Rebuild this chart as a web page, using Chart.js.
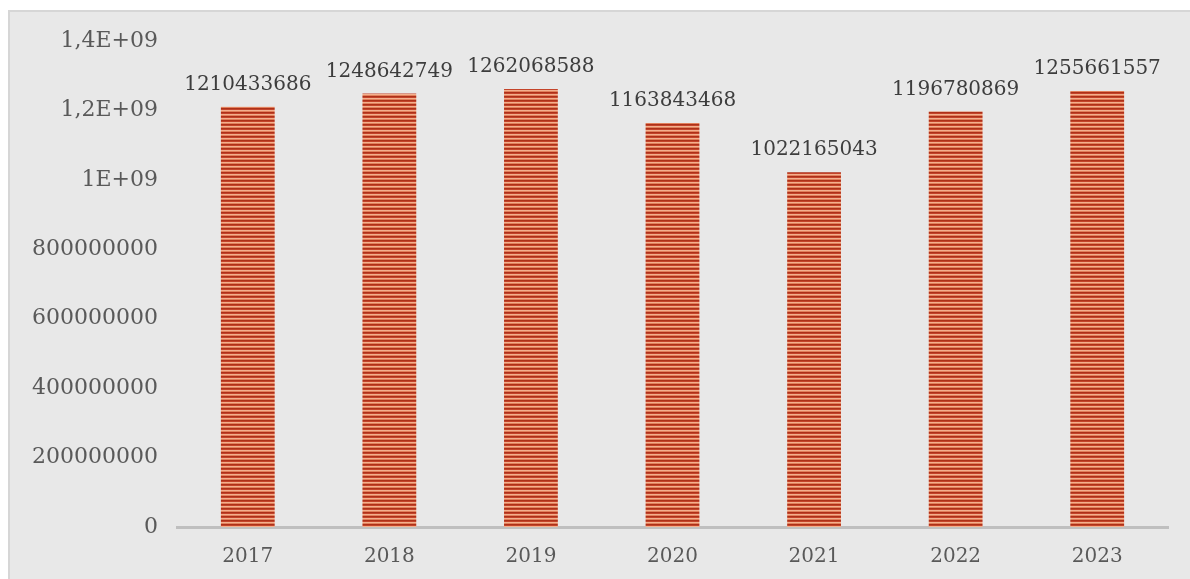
<!DOCTYPE html>
<html>
<head>
<meta charset="utf-8">
<script src="https://cdn.jsdelivr.net/npm/chart.js@4/dist/chart.umd.min.js"></script>
<style>
  html, body { margin: 0; padding: 0; background: #fff; }
  #wrap { position: relative; width: 1190px; height: 579px; overflow: hidden; }
  #bg { position: absolute; left: 8px; top: 10px; right: 0; bottom: 0;
        background: #e8e8e8; border-left: 2px solid #d6d6d6; border-top: 2px solid #d6d6d6; }
  #c { position: absolute; left: 0; top: 0; }
</style>
</head>
<body>
<div id="wrap">
  <div id="bg"></div>
  <canvas id="c" width="1190" height="579"></canvas>
</div>
<script>
const years = ['2017', '2018', '2019', '2020', '2021', '2022', '2023'];
const values = [1210433686, 1248642749, 1262068588, 1163843468, 1022165043, 1196780869, 1255661557];
const yTickLabels = ['0', '200000000', '400000000', '600000000', '800000000', '1E+09', '1,2E+09', '1,4E+09'];

const FONT = "'DejaVu Serif', 'Liberation Serif', serif";

// horizontal stripe fill, like the Excel pattern
function stripes() {
  const p = document.createElement('canvas');
  p.width = 4; p.height = 4;
  const g = p.getContext('2d');
  const rows = ['#ad3119', '#c4442a', '#f3b08e', '#e2805c'];
  rows.forEach((c, i) => { g.fillStyle = c; g.fillRect(0, i, 4, 1); });
  return g.createPattern(p, 'repeat');
}

// value above each bar
const valueLabels = {
  id: 'valueLabels',
  afterDatasetsDraw(chart) {
    const ctx = chart.ctx;
    ctx.save();
    ctx.font = '20px ' + FONT;
    ctx.fillStyle = '#3d3d3d';
    ctx.textAlign = 'center';
    ctx.textBaseline = 'alphabetic';
    chart.getDatasetMeta(0).data.forEach((bar, i) => {
      ctx.fillText(String(values[i]), bar.x, bar.y - 17);
    });
    ctx.restore();
  }
};

new Chart(document.getElementById('c'), {
  type: 'bar',
  data: {
    labels: years,
    datasets: [{ data: values, backgroundColor: stripes(), barPercentage: 0.38, categoryPercentage: 1 }]
  },
  options: {
    responsive: false,
    animation: false,
    layout: { padding: { top: 41, right: 22, left: 0, bottom: 0 } },
    plugins: { legend: { display: false }, tooltip: { enabled: false } },
    scales: {
      x: {
        grid: { display: false, drawTicks: false },
        border: { display: true, color: '#bfbfbf', width: 3 },
        ticks: { color: '#595959', font: { family: FONT, size: 20 }, padding: 18 },
        afterFit: (s) => { s.height = 52; }
      },
      y: {
        min: 0, max: 1.4e9,
        grid: { display: false, drawTicks: false },
        border: { display: false },
        ticks: {
          stepSize: 2e8,
          color: '#595959',
          font: { family: FONT, size: 22 },
          padding: 19,
          callback: (v) => yTickLabels[Math.round(v / 2e8)]
        },
        afterFit: (s) => { s.width = 177; }
      }
    }
  },
  plugins: [valueLabels]
});
</script>
</body>
</html>
